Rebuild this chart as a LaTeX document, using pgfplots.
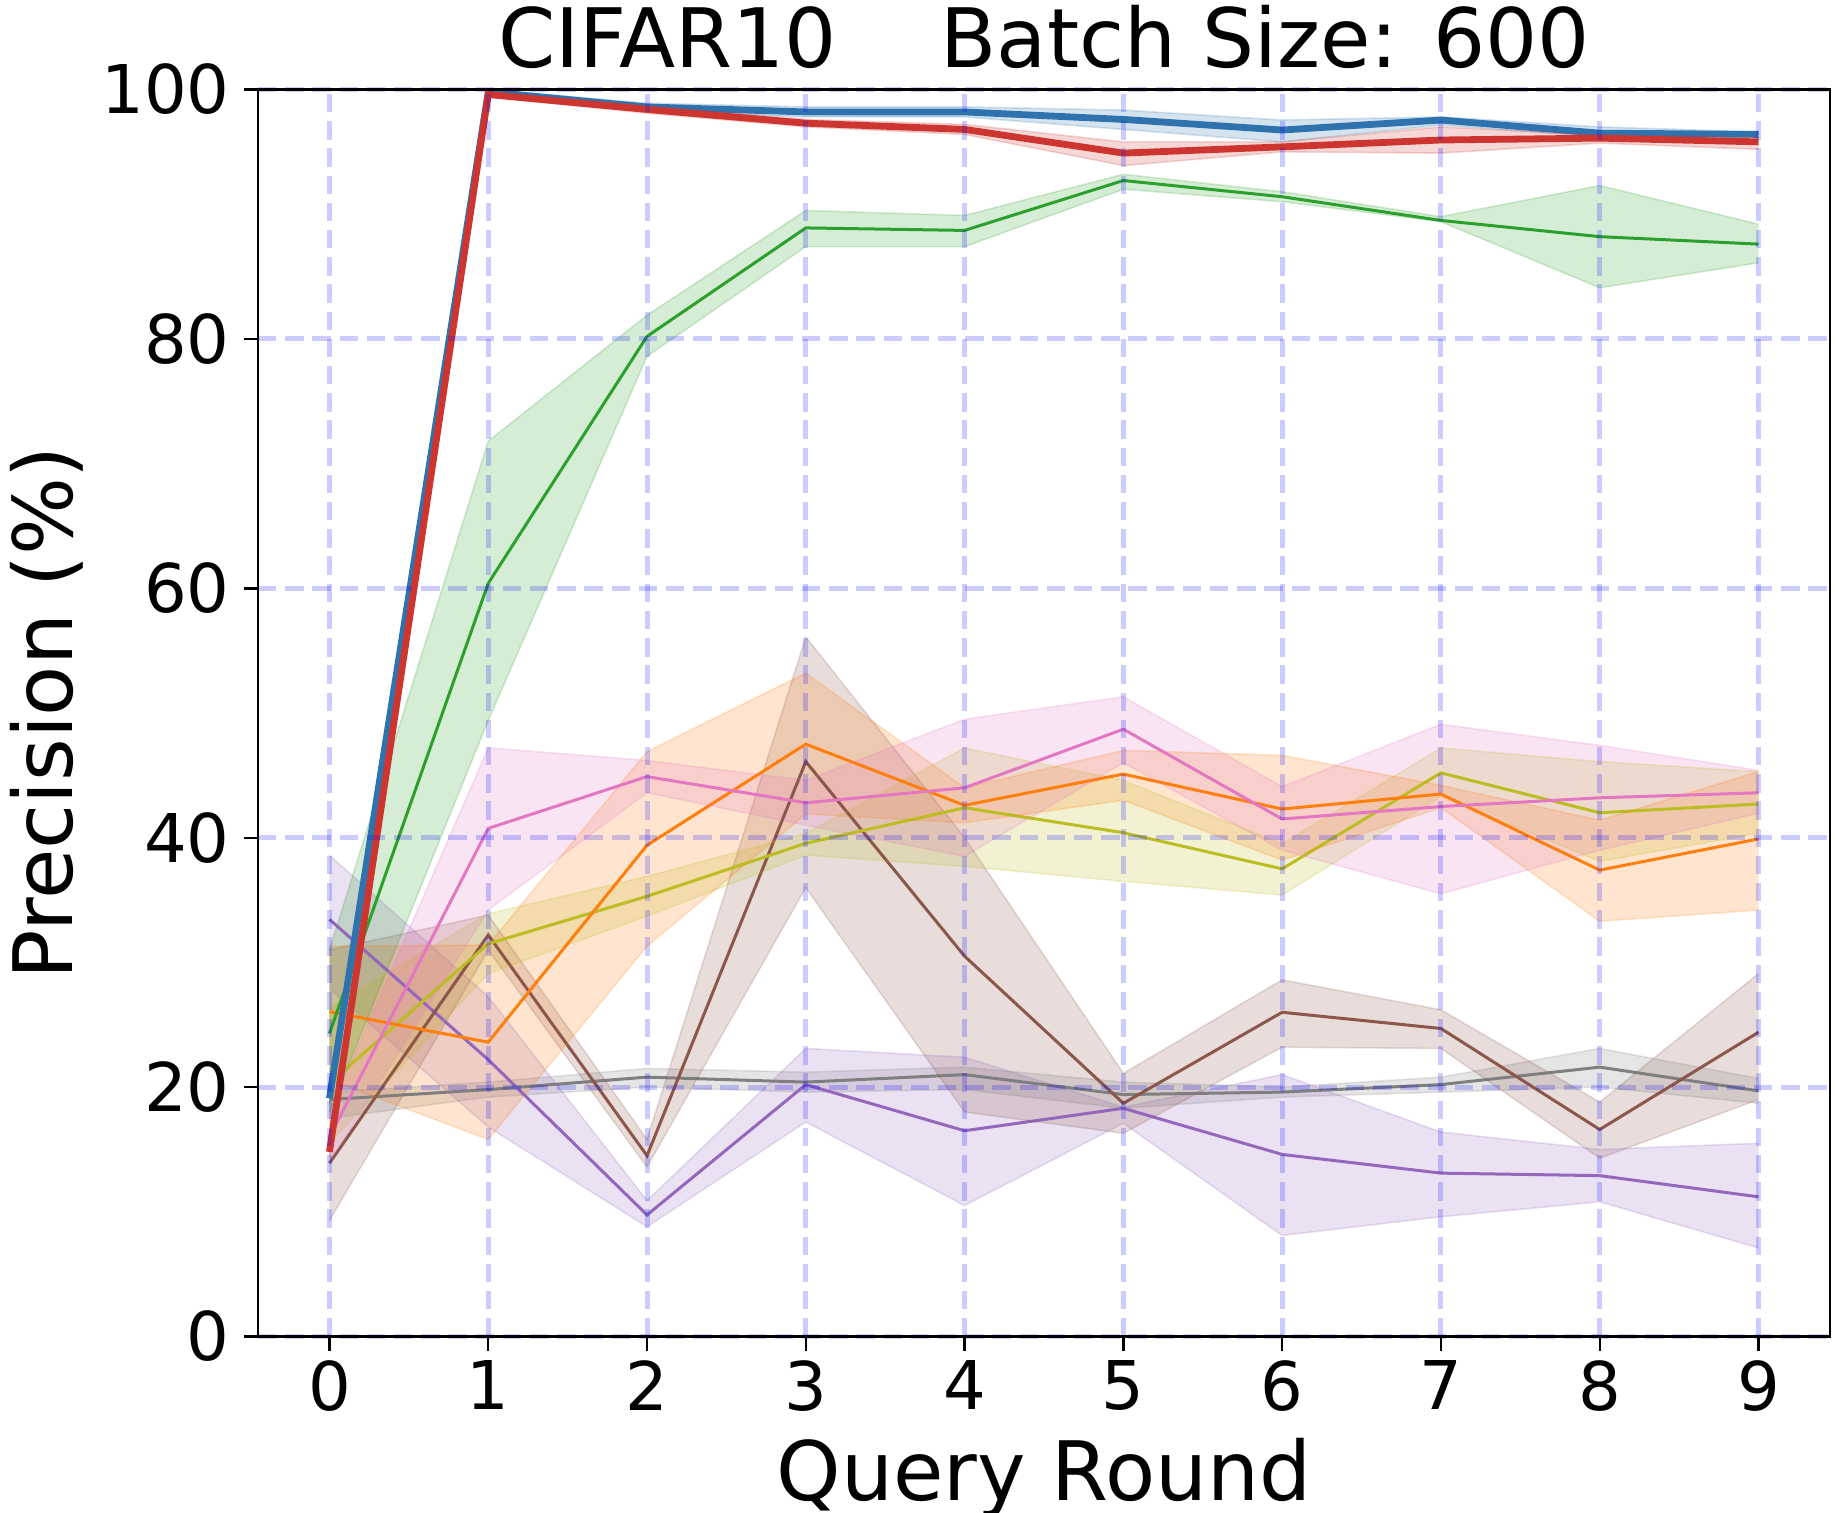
\documentclass[border=0pt]{standalone}
\usepackage{fontspec}
\setmainfont{DejaVu Sans}
\usepackage{pgfplots}
\pgfplotsset{compat=1.18}
\usepgfplotslibrary{fillbetween}
\usepackage{pgfplotstable}

\definecolor{tabblue}{HTML}{2F73AE}
\definecolor{taborange}{HTML}{FF7F0E}
\definecolor{tabgreen}{HTML}{2CA02C}
\definecolor{tabred}{HTML}{CD3530}
\definecolor{tabpurple}{HTML}{9467BD}
\definecolor{tabbrown}{HTML}{8C564B}
\definecolor{tabpink}{HTML}{E377C2}
\definecolor{tabgray}{HTML}{7F7F7F}
\definecolor{tabolive}{HTML}{BCBD22}

\pgfplotstableread{
x y lo hi
0 19.1 18.6 19.6
1 99.8 99.6 100.0
2 98.6 98.3 98.9
3 98.2 97.8 98.6
4 98.2 97.8 98.6
5 97.6 96.8 98.35
6 96.75 95.8 97.55
7 97.55 97.15 97.8
8 96.5 96.2 97.0
9 96.4 96.2 96.6
}\dBlue

\pgfplotstableread{
x y lo hi
0 14.8 14.3 15.3
1 99.6 99.4 99.8
2 98.4 98.1 98.7
3 97.3 97.0 97.6
4 96.8 96.4 97.2
5 94.9 93.9 95.8
6 95.4 95.0 95.8
7 95.95 94.9 97.0
8 96.1 95.7 96.35
9 95.8 95.2 96.2
}\dRed

\pgfplotstableread{
x y lo hi
0 24.3 18.0 31.0
1 60.4 49.4 71.8
2 80.2 78.6 81.9
3 88.9 87.4 90.3
4 88.7 87.4 89.9
5 92.7 92.0 93.2
6 91.4 91.0 91.8
7 89.5 89.4 89.8
8 88.2 84.1 92.3
9 87.6 86.1 89.2
}\dGreen

\pgfplotstableread{
x y lo hi
0 26.05 20.6 31.3
1 23.6 15.8 31.4
2 39.4 31.3 46.9
3 47.5 41.9 53.2
4 42.6 41.2 44.0
5 45.1 43.0 47.0
6 42.3 38.2 46.6
7 43.5 42.4 44.2
8 37.4 33.3 41.4
9 39.9 34.2 45.3
}\dOrange

\pgfplotstableread{
x y lo hi
0 16.0 14.0 18.0
1 40.75 34.2 47.2
2 44.9 43.6 46.2
3 42.8 41.0 44.6
4 44.0 38.5 49.5
5 48.7 46.0 51.3
6 41.5 39.0 44.1
7 42.5 35.5 49.1
8 43.2 39.0 47.4
9 43.6 41.95 45.4
}\dPink

\pgfplotstableread{
x y lo hi
0 20.3 15.5 26.4
1 31.5 29.1 33.9
2 35.3 33.7 36.9
3 39.55 38.6 40.35
4 42.4 37.7 47.2
5 40.4 36.5 44.6
6 37.5 35.4 39.5
7 45.2 43.3 47.2
8 42.0 38.1 46.1
9 42.7 40.35 45.3
}\dOlive

\pgfplotstableread{
x y lo hi
0 13.9 9.3 31.0
1 32.2 31.0 33.8
2 14.5 13.6 15.8
3 46.1 36.0 56.1
4 30.5 18.0 40.0
5 18.7 16.3 21.1
6 26.0 23.2 28.6
7 24.7 23.1 26.2
8 16.6 14.3 18.8
9 24.4 19.0 29.1
}\dBrown

\pgfplotstableread{
x y lo hi
0 19.0 17.5 19.6
1 19.8 19.2 20.4
2 20.8 20.0 21.5
3 20.4 19.6 21.2
4 21.0 19.8 21.6
5 19.4 18.3 20.4
6 19.6 19.2 20.0
7 20.2 19.6 20.8
8 21.6 20.0 23.1
9 19.7 18.7 20.7
}\dGray

\pgfplotstableread{
x y lo hi
0 33.45 27.9 38.6
1 22.2 16.8 27.25
2 9.75 8.8 10.9
3 20.2 17.2 23.1
4 16.5 10.5 22.4
5 18.3 17.1 18.4
6 14.6 8.1 21.0
7 13.1 9.6 16.4
8 12.9 10.8 15.0
9 11.2 7.1 15.5
}\dPurple

\newcommand{\bandseries}[3]{%
  \addplot[draw=#2, draw opacity=0.2, line width=0.4pt, name path=hi#2, forget plot] table[x=x,y=hi]{#1};
  \addplot[draw=#2, draw opacity=0.2, line width=0.4pt, name path=lo#2, forget plot] table[x=x,y=lo]{#1};
  \addplot[fill=#2, fill opacity=0.2, draw=none, forget plot] fill between[of=hi#2 and lo#2];
  \addplot[draw=#2, line width=#3, forget plot] table[x=x,y=y]{#1};
}

\begin{document}
\begin{tikzpicture}
\begin{axis}[
  at={(0,0)}, anchor=south west,
  scale only axis, width=393pt, height=311.75pt,
  xmin=-0.45, xmax=9.45, ymin=0, ymax=100,
  xtick={0,1,2,3,4,5,6,7,8,9}, ytick={0,20,40,60,80,100},
  tick pos=left,
  tick align=outside, major tick length=3.5pt,
  tick style={black, line width=0.6pt},
  axis line style={line width=0.6pt},
  grid=major,
  major grid style={blue, opacity=0.2, line width=1.25pt, dash pattern=on 4.6pt off 2.2pt},
  axis on top,
  tick label style={font=\fontsize{16.8}{16.8}\selectfont, /pgf/number format/assume math mode=true, inner sep=0pt},
  xticklabel style={anchor=north, yshift=-2.4pt},
  yticklabel style={anchor=east, xshift=-3.4pt},
  title={CIFAR10\hspace{1.27em}Batch Size: 600},
  title style={at={(axis description cs:0.5,1)}, anchor=base, yshift=-0.6pt, font=\fontsize{20.5}{20.5}\selectfont},
  xlabel={Query Round},
  xlabel style={at={(axis description cs:0.5,0)}, anchor=base, yshift=-40.9pt, font=\fontsize{20.5}{20.5}\selectfont},
  ylabel={Precision (\%)},
  ylabel style={at={(axis description cs:-0.11825,0.5)}, anchor=base, font=\fontsize{20.5}{20.5}\selectfont},
]
\bandseries{\dGray}{tabgray}{0.75pt}
\bandseries{\dPurple}{tabpurple}{0.75pt}
\bandseries{\dBrown}{tabbrown}{0.75pt}
\bandseries{\dOlive}{tabolive}{0.75pt}
\bandseries{\dOrange}{taborange}{0.75pt}
\bandseries{\dPink}{tabpink}{0.75pt}
\bandseries{\dGreen}{tabgreen}{0.75pt}
\bandseries{\dBlue}{tabblue}{1.7pt}
\bandseries{\dRed}{tabred}{1.7pt}
\end{axis}
\pgfresetboundingbox
\path[use as bounding box] (-64.5pt,-44.125pt) rectangle (394.25pt,334.125pt);
\end{tikzpicture}
\end{document}
